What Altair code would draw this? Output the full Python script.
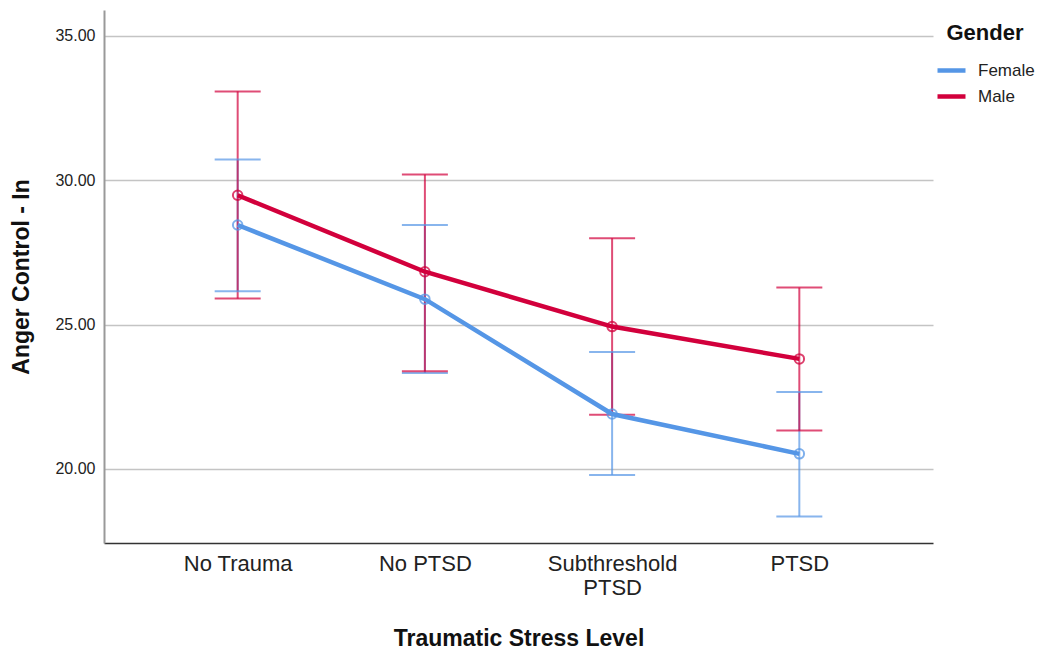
import altair as alt
import pandas as pd

categories = ["No Trauma", "No PTSD", "Subthreshold PTSD", "PTSD"]
genders = ["Female", "Male"]

female_mean = [28.45, 25.88, 21.90, 20.52]
female_lo = [26.15, 23.32, 19.79, 18.35]
female_hi = [30.72, 28.45, 24.05, 22.66]

male_mean = [29.48, 26.83, 24.93, 23.81]
male_lo = [25.90, 23.38, 21.87, 21.33]
male_hi = [33.08, 30.20, 27.99, 26.28]

rows = []
for g, m, lo, hi in [("Female", female_mean, female_lo, female_hi),
                     ("Male", male_mean, male_lo, male_hi)]:
    for c, a, b, d in zip(categories, m, lo, hi):
        rows.append({"level": c, "gender": g, "mean": a, "lo": b, "hi": d})
df = pd.DataFrame(rows)

BLUE = "#5596e6"
RED = "#d2003c"
FONT = "Liberation Sans"

xenc = alt.X(
    "level:N",
    sort=categories,
    scale=alt.Scale(type="point", padding=0.714),
    axis=alt.Axis(
        title="Traumatic Stress Level",
        labelAngle=0,
        labelFontSize=22,
        labelFont=FONT,
        labelColor="#222222",
        labelPadding=10,
        labelLineHeight=24,
        labelExpr="datum.label == 'Subthreshold PTSD' ? ['Subthreshold', 'PTSD'] : datum.label",
        titleFontSize=23,
        titleFont=FONT,
        titleFontWeight="bold",
        titleColor="#111111",
        titlePadding=29,
        ticks=False,
        domainColor="#333333",
        domainWidth=1.5,
        grid=False,
    ),
)

ydom = [17.43, 35.9]
yscale = alt.Scale(domain=ydom, nice=False, zero=False)
yaxis = alt.Axis(
    title="Anger Control - In",
    values=[20, 25, 30, 35],
    format=".2f",
    labelFontSize=16,
    labelFont=FONT,
    labelColor="#222222",
    labelPadding=9,
    titleFontSize=23,
    titleFont=FONT,
    titleFontWeight="bold",
    titleColor="#111111",
    titlePadding=21,
    ticks=False,
    domainColor="#999999",
    domainWidth=2,
    grid=True,
    gridColor="#c4c4c4",
    gridWidth=1.5,
)

color = alt.Color(
    "gender:N",
    scale=alt.Scale(domain=genders, range=[BLUE, RED]),
    legend=alt.Legend(
        title="Gender",
        orient="none",
        legendX=831,
        legendY=13,
        titleFontSize=22,
        titleFont=FONT,
        titleFontWeight="bold",
        titleColor="#111111",
        titleAnchor="middle",
        titlePadding=9,
        labelFontSize=17,
        labelFont=FONT,
        labelColor="#222222",
        labelOffset=10,
        symbolType="stroke",
        symbolSize=784,
        symbolStrokeWidth=4.5,
        symbolOpacity=1,
        rowPadding=-6,
        padding=0,
    ),
)

base = alt.Chart(df)

bars = base.mark_rule(strokeWidth=2, opacity=0.7).encode(
    x=xenc,
    y=alt.Y("lo:Q", scale=yscale, axis=yaxis),
    y2="hi:Q",
    color=color,
)
cap_lo = base.mark_tick(orient="horizontal", size=46, thickness=2, opacity=0.7).encode(
    x=xenc,
    y=alt.Y("lo:Q", scale=yscale),
    color=color,
)
cap_hi = base.mark_tick(orient="horizontal", size=46, thickness=2, opacity=0.7).encode(
    x=xenc,
    y=alt.Y("hi:Q", scale=yscale),
    color=color,
)
lines = base.mark_line(strokeWidth=4.5).encode(
    x=xenc,
    y=alt.Y("mean:Q", scale=yscale),
    color=color,
)
points = base.mark_point(filled=False, size=90, strokeWidth=2, opacity=0.75).encode(
    x=xenc,
    y=alt.Y("mean:Q", scale=yscale),
    color=color,
)

chart = (
    alt.layer(bars, cap_lo, cap_hi, lines, points)
    .properties(
        width=829,
        height=533,
        background="white",
        autosize=alt.AutoSizeParams(type="none"),
        padding={"left": 96, "top": 2, "right": 105, "bottom": 107},
    )
    .configure_view(strokeWidth=0)
)

chart.save("out.html", embed_options={"renderer": "svg", "actions": False})
